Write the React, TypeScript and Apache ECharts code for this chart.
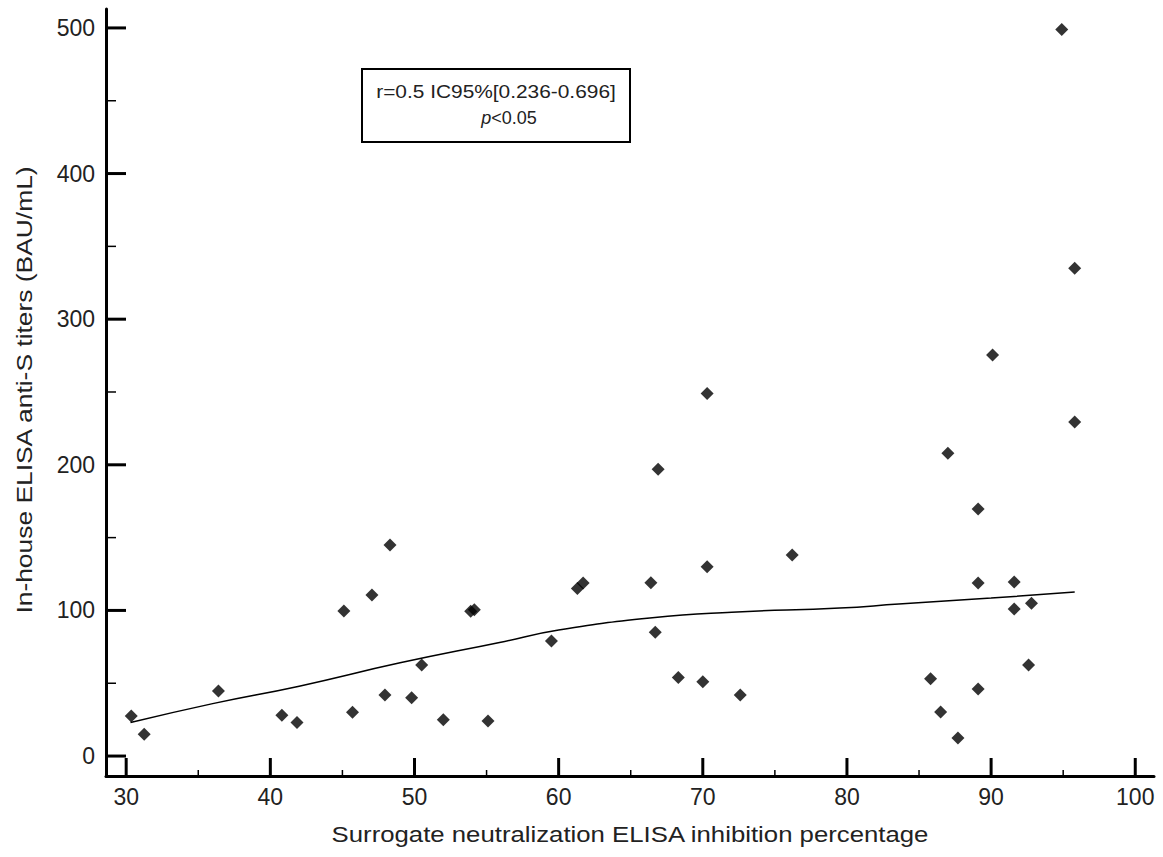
import React, { useEffect, useRef } from "react";
import * as echarts from "echarts";

// Scatter data: surrogate neutralization inhibition (%) vs in-house anti-S titers (BAU/mL)
const inhibition = [
  30.35, 31.25, 36.4, 40.8, 41.85, 45.1, 45.7, 47.05, 47.95, 48.3,
  49.8, 50.5, 52.0, 53.9, 54.15, 55.1, 59.5, 61.3, 61.7, 66.4,
  66.7, 66.9, 68.3, 70.0, 70.3, 70.3, 72.6, 76.2, 85.8, 86.5,
  87.0, 87.7, 89.1, 89.1, 89.1, 90.1, 91.6, 91.6, 92.6, 92.8,
  94.9, 95.8, 95.8,
];
const titers = [
  27.5, 15, 44.6, 28, 23, 99.6, 30, 110.6, 42, 145,
  40, 62.5, 25, 99.5, 100.5, 24, 79, 115, 118.8, 119,
  85, 197, 54, 51, 130, 249, 42, 138, 53, 30.2,
  208, 12.4, 46, 118.8, 169.6, 275.4, 119.5, 101, 62.5, 105,
  499, 229.4, 335,
];

// Fitted curve
const fitX = [30.3, 36, 42, 49, 55.9, 60, 66.5, 72, 79.5, 83.6, 90, 95.8];
const fitY = [23, 36, 48, 64, 78, 86.5, 95, 98.8, 101.6, 104.4, 108.5, 112.6];

// Ticks
const xMajorTicks = [30, 40, 50, 60, 70, 80, 90, 100];
const xMinorTicks = [35, 45, 55, 65, 75, 85, 95];
const yMajorTicks = [0, 100, 200, 300, 400, 500];
const yMinorTicks = [50, 150, 250, 350, 450];

const annotationLine1 = "r=0.5 IC95%[0.236-0.696]";
const xName = "Surrogate neutralization ELISA inhibition percentage";
const yName = "In-house ELISA anti-S titers (BAU/mL)";

const FONT = "'Liberation Sans', Arial, sans-serif";
const TEXT = "#222";

const W = 1163;
const H = 857;
const GRID = { left: 106, right: 9, top: 9, bottom: 81 };

const X_MIN = 28.6;
const X_MAX = 101.3;
const Y_MIN = -13.7;
const Y_MAX = 513;

// custom series drawing inward-pointing ticks through the axes' scales
function xTickSeries(values: number[], length: number, width: number) {
  return {
    type: "custom",
    silent: true,
    clip: false,
    z: 5,
    data: values.map((v) => [v, Y_MIN]),
    renderItem: (_params: any, api: any) => {
      const p = api.coord([api.value(0), api.value(1)]);
      return {
        type: "line",
        shape: { x1: p[0], y1: p[1], x2: p[0], y2: p[1] - length },
        style: { stroke: "#000", lineWidth: width },
      };
    },
  };
}
function yTickSeries(values: number[], length: number, width: number) {
  return {
    type: "custom",
    silent: true,
    clip: false,
    z: 5,
    data: values.map((v) => [X_MIN, v]),
    renderItem: (_params: any, api: any) => {
      const p = api.coord([api.value(0), api.value(1)]);
      return {
        type: "line",
        shape: { x1: p[0], y1: p[1], x2: p[0] + length, y2: p[1] },
        style: { stroke: "#000", lineWidth: width },
      };
    },
  };
}

export default function App() {
  const ref = useRef<HTMLDivElement>(null);

  useEffect(() => {
    if (!ref.current) return;
    const chart = echarts.init(ref.current, null, { renderer: "svg" });

    chart.setOption({
      animation: false,
      backgroundColor: "#fff",
      textStyle: { fontFamily: FONT },
      grid: { ...GRID, containLabel: false },
      xAxis: {
        type: "value",
        min: X_MIN,
        max: X_MAX,
        splitLine: { show: false },
        position: "bottom",
        axisLine: { show: true, onZero: false, lineStyle: { color: "#000", width: 3 } },
        axisTick: { show: false },
        axisLabel: {
          show: true,
          customValues: xMajorTicks,
          fontSize: 23,
          color: TEXT,
          fontFamily: FONT,
          margin: 9,
        },
      },
      yAxis: {
        type: "value",
        min: Y_MIN,
        max: Y_MAX,
        splitLine: { show: false },
        position: "left",
        axisLine: { show: true, onZero: false, lineStyle: { color: "#000", width: 3 } },
        axisTick: { show: false },
        axisLabel: {
          show: true,
          customValues: yMajorTicks,
          fontSize: 23,
          color: TEXT,
          fontFamily: FONT,
          margin: 11,
        },
      },
      series: [
        {
          type: "line",
          data: fitX.map((x, i) => [x, fitY[i]]),
          smooth: true,
          showSymbol: false,
          symbol: "none",
          lineStyle: { color: "#000", width: 1.5 },
          silent: true,
          z: 2,
        },
        {
          type: "scatter",
          data: inhibition.map((x, i) => [x, titers[i]]),
          symbol: "diamond",
          symbolSize: 13,
          itemStyle: { color: "#000" },
          z: 3,
        },
        xTickSeries(xMajorTicks, 18, 3),
        xTickSeries(xMinorTicks, 6, 1.5),
        yTickSeries(yMajorTicks, 20, 3),
        yTickSeries(yMinorTicks, 10, 1.5),
      ],
      graphic: [
        {
          type: "text",
          x: 630,
          y: 834,
          scaleX: 1.12,
          style: {
            text: xName,
            fontSize: 23,
            fontFamily: FONT,
            fill: TEXT,
            textAlign: "center",
            textVerticalAlign: "middle",
          },
        },
        {
          type: "text",
          x: 24,
          y: 390,
          rotation: Math.PI / 2,
          scaleX: 1.2,
          style: {
            text: yName,
            fontSize: 22,
            fontFamily: FONT,
            fill: TEXT,
            textAlign: "center",
            textVerticalAlign: "middle",
          },
        },
        {
          type: "group",
          children: [
            {
              type: "rect",
              shape: { x: 362, y: 69, width: 268, height: 73 },
              style: { fill: "#fff", stroke: "#000", lineWidth: 2 },
            },
            {
              type: "text",
              x: 496,
              y: 92,
              scaleX: 1.16,
              style: {
                text: annotationLine1,
                fontSize: 18,
                fontFamily: FONT,
                fill: TEXT,
                textAlign: "center",
                textVerticalAlign: "middle",
              },
            },
            {
              type: "text",
              x: 509,
              y: 118,
              style: {
                text: "{i|p}{n|<0.05}",
                fontSize: 18,
                fontFamily: FONT,
                fill: TEXT,
                textAlign: "center",
                textVerticalAlign: "middle",
                rich: {
                  i: { fontStyle: "italic", fontSize: 18, fontFamily: FONT, fill: TEXT },
                  n: { fontSize: 18, fontFamily: FONT, fill: TEXT },
                },
              },
            },
          ],
        },
      ],
    });

    return () => chart.dispose();
  }, []);

  return (
    <div
      ref={ref}
      style={{ position: "fixed", left: 0, top: 0, width: W, height: H, background: "#fff" }}
    />
  );
}
